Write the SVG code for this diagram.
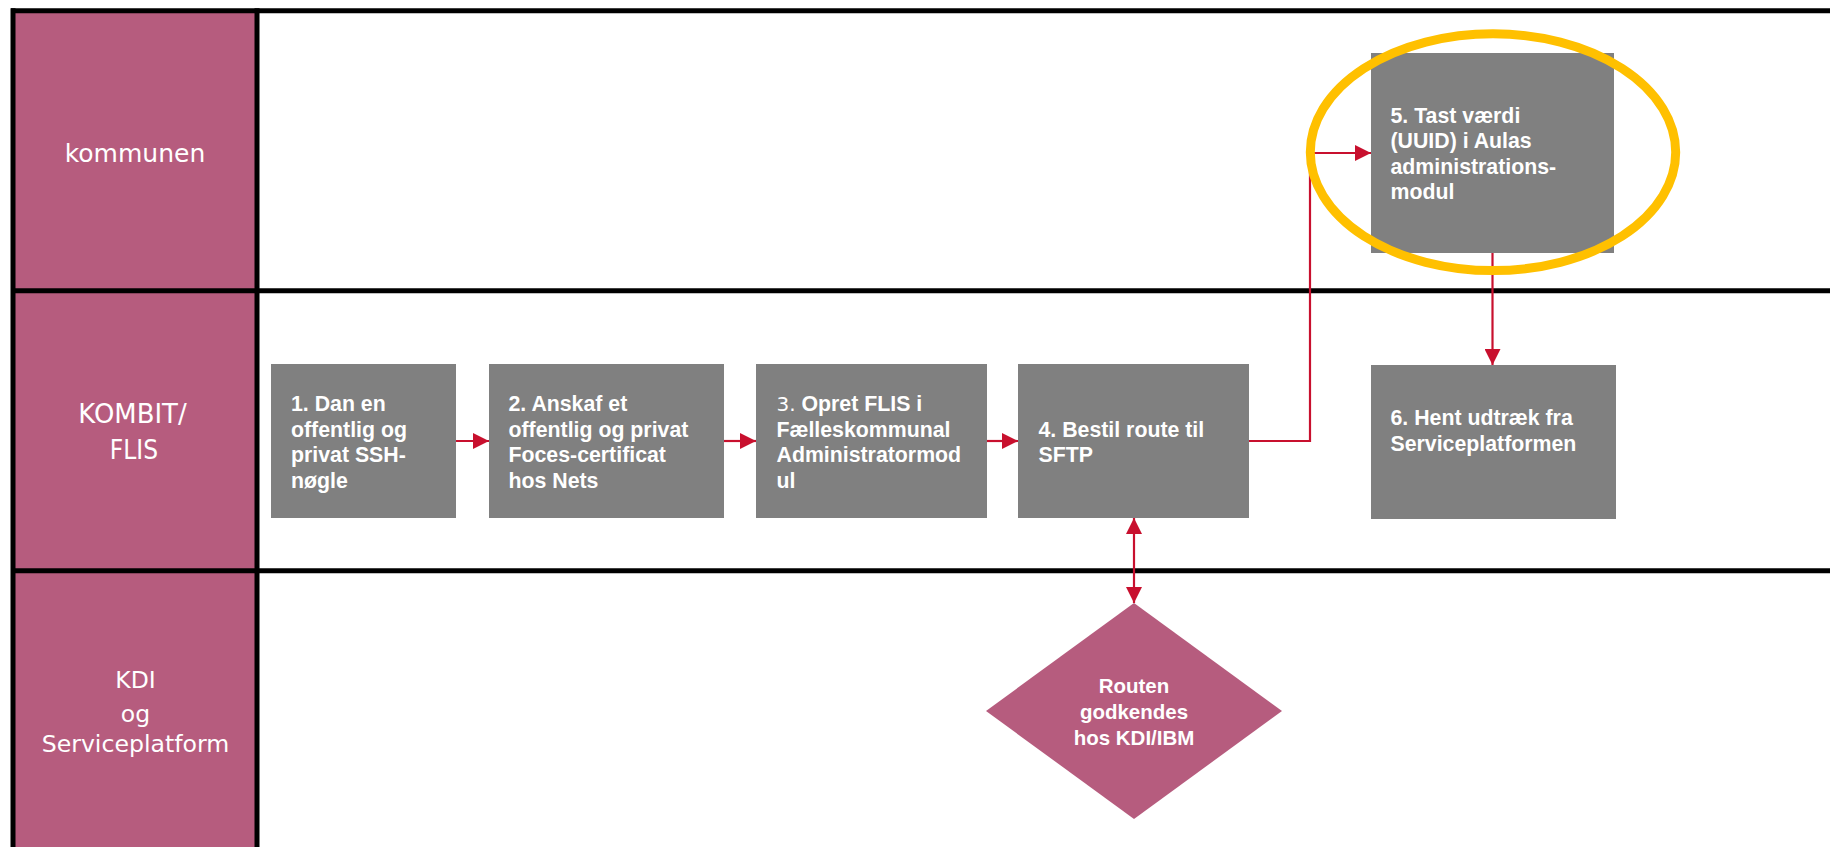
<svg xmlns="http://www.w3.org/2000/svg" width="1830" height="847" viewBox="0 0 1830 847">
<style>
.lane{fill:#B65C7E}
.frame{stroke:#000;stroke-width:5;fill:none}
.lanetxt{font-family:"DejaVu Sans",sans-serif;fill:#fff;text-anchor:middle}
.box{fill:#808080}
.btxt{font-family:"Liberation Sans",Arial,sans-serif;font-weight:bold;font-size:21.3px;fill:#fff}
.dtxt{font-family:"Liberation Sans",Arial,sans-serif;font-weight:bold;font-size:20.5px;fill:#fff;text-anchor:middle}
.conn{stroke:#C8102E;stroke-width:2.2;fill:none}
.hl{fill:none;stroke:#FFC000;stroke-width:9}
</style>
<defs>
<marker id="ah" viewBox="0 0 16 16" refX="16" refY="8" markerWidth="16" markerHeight="16" orient="auto-start-reverse" markerUnits="userSpaceOnUse">
<path d="M0,0 L16,8 L0,16 z" fill="#C8102E"/>
</marker>
</defs>
<rect x="0" y="0" width="1830" height="847" fill="#fff"/>
<g id="lanes">
<rect class="lane" x="13" y="11" width="244" height="836"/>
<line class="frame" x1="11" y1="10.8" x2="1830" y2="10.8"/>
<line class="frame" x1="11" y1="290.8" x2="1830" y2="290.8"/>
<line class="frame" x1="11" y1="570.8" x2="1830" y2="570.8"/>
<line class="frame" x1="13" y1="8.3" x2="13" y2="847"/>
<line class="frame" x1="257" y1="8.3" x2="257" y2="847"/>
</g>
<g id="lane-kommunen">
<text class="lanetxt" x="135" y="161.7" font-size="25" textLength="140.7" lengthAdjust="spacingAndGlyphs">kommunen</text>
</g>
<g id="lane-kombit">
<text class="lanetxt" x="132.5" y="422.7" font-size="26" textLength="108.3" lengthAdjust="spacingAndGlyphs">KOMBIT/</text>
<text class="lanetxt" x="134" y="459.3" font-size="26" textLength="48.3" lengthAdjust="spacingAndGlyphs">FLIS</text>
</g>
<g id="lane-kdi">
<text class="lanetxt" x="135.5" y="688.3" font-size="23.5">KDI</text>
<text class="lanetxt" x="135.5" y="721.7" font-size="23.5">og</text>
<text class="lanetxt" x="135.5" y="751.7" font-size="23.5" textLength="187.7" lengthAdjust="spacingAndGlyphs">Serviceplatform</text>
</g>
<g id="connectors">
<line class="conn" x1="456" y1="441" x2="489" y2="441" marker-end="url(#ah)"/>
<line class="conn" x1="724" y1="441" x2="756" y2="441" marker-end="url(#ah)"/>
<line class="conn" x1="987" y1="441" x2="1018" y2="441" marker-end="url(#ah)"/>
<path class="conn" d="M1249,441 H1310 V153 H1371" marker-end="url(#ah)"/>
<line class="conn" x1="1492.5" y1="253" x2="1492.5" y2="365" marker-end="url(#ah)"/>
<line class="conn" x1="1134" y1="518" x2="1134" y2="603" marker-start="url(#ah)" marker-end="url(#ah)"/>
</g>
<g id="n1">
<rect class="box" x="271" y="364" width="185" height="154"/>
<text class="btxt" x="291" y="411">1. Dan en</text>
<text class="btxt" x="291" y="436.5">offentlig og</text>
<text class="btxt" x="291" y="462">privat SSH-</text>
<text class="btxt" x="291" y="487.5">nøgle</text>
</g>
<g id="n2">
<rect class="box" x="489" y="364" width="235" height="154"/>
<text class="btxt" x="508.5" y="411">2. Anskaf et</text>
<text class="btxt" x="508.5" y="436.5">offentlig og privat</text>
<text class="btxt" x="508.5" y="462">Foces-certificat</text>
<text class="btxt" x="508.5" y="487.5">hos Nets</text>
</g>
<g id="n3">
<rect class="box" x="756" y="364" width="231" height="154"/>
<text class="btxt" x="776.5" y="411"><tspan font-family="'DejaVu Sans',sans-serif" font-weight="normal" font-size="20">3.</tspan> Opret FLIS i</text>
<text class="btxt" x="776.5" y="436.5">Fælleskommunal</text>
<text class="btxt" x="776.5" y="462">Administratormod</text>
<text class="btxt" x="776.5" y="487.5">ul</text>
</g>
<g id="n4">
<rect class="box" x="1018" y="364" width="231" height="154"/>
<text class="btxt" x="1038.5" y="436.7">4. Bestil route til</text>
<text class="btxt" x="1038.5" y="462">SFTP</text>
</g>
<g id="n5">
<rect class="box" x="1371" y="53" width="243" height="200"/>
<text class="btxt" x="1390.5" y="122.7">5. Tast værdi</text>
<text class="btxt" x="1390.5" y="148.2">(UUID) i Aulas</text>
<text class="btxt" x="1390.5" y="173.7">administrations-</text>
<text class="btxt" x="1390.5" y="199.2">modul</text>
</g>
<g id="n6">
<rect class="box" x="1371" y="365" width="245" height="154"/>
<text class="btxt" x="1390.5" y="425">6. Hent udtræk fra</text>
<text class="btxt" x="1390.5" y="450.5">Serviceplatformen</text>
</g>
<g id="d1">
<polygon points="1134,603 1282,711 1134,819 986,711" fill="#B65C7E"/>
<text class="dtxt" x="1134" y="693.3">Routen</text>
<text class="dtxt" x="1134" y="718.5">godkendes</text>
<text class="dtxt" x="1134" y="745">hos KDI/IBM</text>
</g>
<g id="highlight">
<ellipse class="hl" cx="1493" cy="152.2" rx="182.7" ry="118.4"/>
</g>
</svg>
